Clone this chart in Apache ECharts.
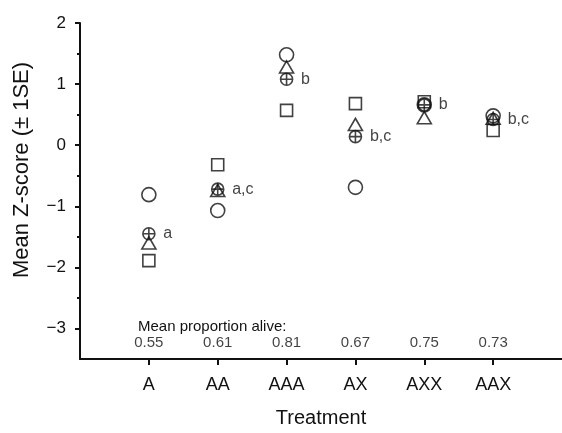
<!DOCTYPE html>
<html>
<head>
<meta charset="utf-8">
<script src="https://cdn.jsdelivr.net/npm/echarts@6/dist/echarts.min.js"></script>
<style>
html,body{margin:0;padding:0;background:#fff;}
#chart{width:562px;height:433px;}
</style>
</head>
<body>
<div id="chart"></div>
<script>
// ---- data ----
const treatments = ['A', 'AA', 'AAA', 'AX', 'AXX', 'AAX'];
const circleValues   = [-0.81, -1.07, 1.48, -0.69, 0.66, 0.48];
const squareValues   = [-1.89, -0.32, 0.57, 0.68, 0.71, 0.24];
const triangleValues = [-1.60, -0.74, 1.28, 0.34, 0.45, 0.44];
const meanValues     = [-1.45, -0.72, 1.08, 0.14, 0.66, 0.42];
const groupLetters   = ['a', 'a,c', 'b', 'b,c', 'b', 'b,c'];
const proportionAlive = ['0.55', '0.61', '0.81', '0.67', '0.75', '0.73'];
const yTickValues = [-3, -2, -1, 0, 1, 2];
const yMinorTickValues = [-2.5, -1.5, -0.5, 0.5, 1.5];
const xTickValues = [0, 1, 2, 3, 4, 5];

const FONT = '"Liberation Sans", Arial, Helvetica, sans-serif';
const INK = '#111';
const proportionRowY = -3.24;

const crossCircle = 'path://M0,-10 A10,10 0 1,1 0,10 A10,10 0 1,1 0,-10 Z M-10,0 L10,0 M0,-10 L0,10';

function pts(vals) { return vals.map((v, i) => [i, v]); }

const hollow = { color: 'none', borderColor: INK, borderWidth: 1.6 };

const chart = echarts.init(document.getElementById('chart'), null, { renderer: 'canvas' });
chart.setOption({
  animation: false,
  backgroundColor: '#fff',
  textStyle: { fontFamily: FONT, color: INK },
  grid: { left: 80, top: 23, width: 486, height: 341, containLabel: false },
  xAxis: {
    type: 'value', min: -1, max: 6,
    name: 'Treatment', nameLocation: 'middle', nameGap: 49,
    nameTextStyle: { fontSize: 20, fontFamily: FONT, color: INK },
    axisLine: { show: true, onZero: false, lineStyle: { color: INK, width: 2 } },
    axisTick: { show: true, customValues: xTickValues, length: 6, lineStyle: { color: INK, width: 2 } },
    axisLabel: { customValues: xTickValues, formatter: v => treatments[v] || '', margin: 17,
                 fontSize: 18, fontFamily: FONT, color: INK },
    splitLine: { show: false }
  },
  yAxis: [{
    type: 'value', min: -3.5, max: 2, position: 'left',
    name: 'Mean Z-score (\u00b1 1SE)', nameLocation: 'middle', nameGap: 47, nameRotate: 90,
    nameTextStyle: { fontSize: 22, fontFamily: FONT, color: INK, padding: [0, 0, 0, 42] },
    axisLine: { show: true, onZero: false, lineStyle: { color: INK, width: 2 } },
    axisTick: { show: true, customValues: yTickValues, length: 5, lineStyle: { color: INK, width: 2 } },
    axisLabel: { customValues: yTickValues, margin: 14, fontSize: 17, fontFamily: FONT, color: INK,
                 formatter: v => (v < 0 ? '\u2212' + Math.abs(v) : String(v)) },
    splitLine: { show: false }
  }, {
    type: 'value', min: -3.5, max: 2, position: 'left',
    axisLine: { show: false, onZero: false },
    axisTick: { show: true, customValues: yMinorTickValues, length: 3, lineStyle: { color: INK, width: 2 } },
    axisLabel: { show: false },
    splitLine: { show: false }
  }],
  graphic: [{
    type: 'text', left: 138, top: 319,
    style: { text: 'Mean proportion alive:', font: '15px ' + FONT, fill: INK }
  }],
  series: [
    { type: 'scatter', name: 'square', symbol: 'rect', symbolSize: 12, data: pts(squareValues), itemStyle: hollow, z: 2 },
    { type: 'scatter', name: 'triangle', symbol: 'triangle', symbolSize: [14, 12], data: pts(triangleValues), itemStyle: hollow, z: 3 },
    { type: 'scatter', name: 'circle', symbol: 'circle', symbolSize: 14, data: pts(circleValues), itemStyle: hollow, z: 4 },
    { type: 'scatter', name: 'mean', symbol: crossCircle, symbolSize: 12, data: pts(meanValues),
      itemStyle: hollow, z: 5,
      label: { show: true, position: 'right', distance: 6, fontSize: 16, fontFamily: FONT, color: INK,
               formatter: p => groupLetters[p.dataIndex] } },
    { type: 'scatter', name: 'proportion alive', silent: true, symbol: 'circle', symbolSize: 1,
      itemStyle: { color: 'rgba(0,0,0,0)' },
      data: treatments.map((t, i) => [i, proportionRowY]),
      label: { show: true, position: 'inside', fontSize: 15, fontFamily: FONT, color: INK,
               formatter: p => proportionAlive[p.dataIndex] } }
  ]
});
</script>
</body>
</html>
